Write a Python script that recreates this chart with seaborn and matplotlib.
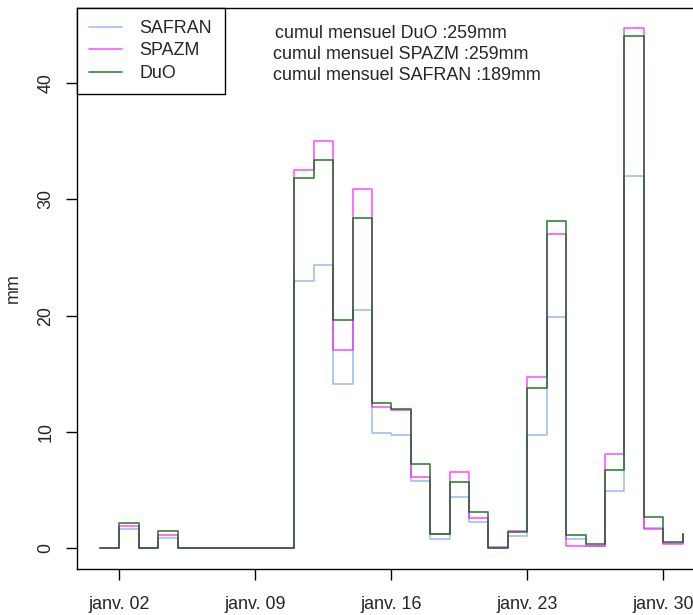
import numpy as np
import pandas as pd
import matplotlib
matplotlib.use('Agg')
import matplotlib.pyplot as plt
from matplotlib.lines import Line2D
import seaborn as sns

# daily precipitation (mm), january
days = np.arange(1, 32)
safran = [0, 1.67, 0, 0.9, 0, 0, 0, 0, 0, 0,
          22.96, 24.37, 14.08, 20.49, 9.88, 9.77, 5.8, 0.8, 4.42, 2.27,
          0.05, 1.06, 9.71, 19.9, 0.78, 0.23, 4.94, 32.0, 1.75, 0.44, 1.2]
spazm = [0, 1.9, 0, 1.1, 0, 0, 0, 0, 0, 0,
         32.5, 35.0, 17.0, 30.86, 12.18, 11.9, 6.09, 1.2, 6.52, 2.56,
         0.1, 1.52, 14.7, 27.0, 0.17, 0.23, 8.07, 44.7, 1.67, 0.34, 1.2]
duo = [0, 2.15, 0.05, 1.5, 0, 0, 0, 0, 0, 0,
       31.8, 33.36, 19.6, 28.36, 12.47, 11.96, 7.21, 1.23, 5.72, 3.07,
       0, 1.41, 13.8, 28.1, 1.15, 0.34, 6.72, 44.05, 2.64, 0.55, 1.2]
sources = ['SAFRAN', 'SPAZM', 'DuO']
tick_days = [2, 9, 16, 23, 30]
tick_labels = ['janv. 02', 'janv. 09', 'janv. 16', 'janv. 23', 'janv. 30']
cumul_text = ['cumul mensuel DuO :259mm',
              'cumul mensuel SPAZM :259mm',
              'cumul mensuel SAFRAN :189mm']

colors = {'SAFRAN': (0.392, 0.584, 0.929, 0.6),
          'SPAZM': (1.0, 0.0, 1.0, 0.65),
          'DuO': (0.0, 0.392, 0.0, 0.8)}

frame = pd.DataFrame({
    'jour': np.concatenate([days, days, days]),
    'mm': np.concatenate([safran, spazm, duo]),
    'source': np.repeat(sources, len(days)),
})

FS = 12.9

sns.set_style('ticks')
plt.rcParams['font.family'] = ['Liberation Sans', 'DejaVu Sans']
plt.rcParams['font.size'] = FS

fig = plt.figure(figsize=(6.93, 6.15), dpi=100)
ax = fig.add_axes([76.7 / 693, 46 / 615, 629.3 / 693, 561.5 / 615])

for src in sources:
    sub = frame[frame['source'] == src]
    sns.lineplot(data=sub, x='jour', y='mm', ax=ax, color=colors[src],
                 drawstyle='steps-post', linewidth=1.2, legend=False,
                 estimator=None)

ax.margins(x=0.04, y=0.04)
ax.set_xticks(tick_days)
ax.set_xticklabels(tick_labels)
ax.set_yticks([0, 10, 20, 30, 40])
ax.set_xlabel('')
ax.set_ylabel('mm', fontsize=FS)
ax.yaxis.label.set_verticalalignment('center')
ax.yaxis.set_label_coords(-0.1, 0.5)

for s in ax.spines.values():
    s.set_visible(True)
    s.set_color('black')
    s.set_linewidth(1.0)
ax.tick_params(axis='both', direction='out', length=8, width=1.0,
               color='black', labelsize=FS)
ax.tick_params(axis='x', pad=11.5)
ax.tick_params(axis='y', pad=8, labelrotation=90)
for lab in ax.get_yticklabels():
    lab.set_verticalalignment('center')

handles = [Line2D([], [], color=colors[s], linewidth=1.2) for s in sources]
leg = ax.legend(handles, sources, loc='upper left', bbox_to_anchor=(0, 1),
                borderaxespad=0, fancybox=False, edgecolor='black',
                framealpha=1, handlelength=1.85, handletextpad=0.95,
                labelspacing=0.3, borderpad=0.7, fontsize=FS)
leg.get_frame().set_linewidth(1.0)

fig.text(275 / 693, 1 - 33.3 / 615, cumul_text[0], ha='left', va='center')
fig.text(272.7 / 693, 1 - 54.5 / 615, cumul_text[1], ha='left', va='center')
fig.text(272.7 / 693, 1 - 76 / 615, cumul_text[2], ha='left', va='center')

fig.savefig('out.png', dpi=100)
